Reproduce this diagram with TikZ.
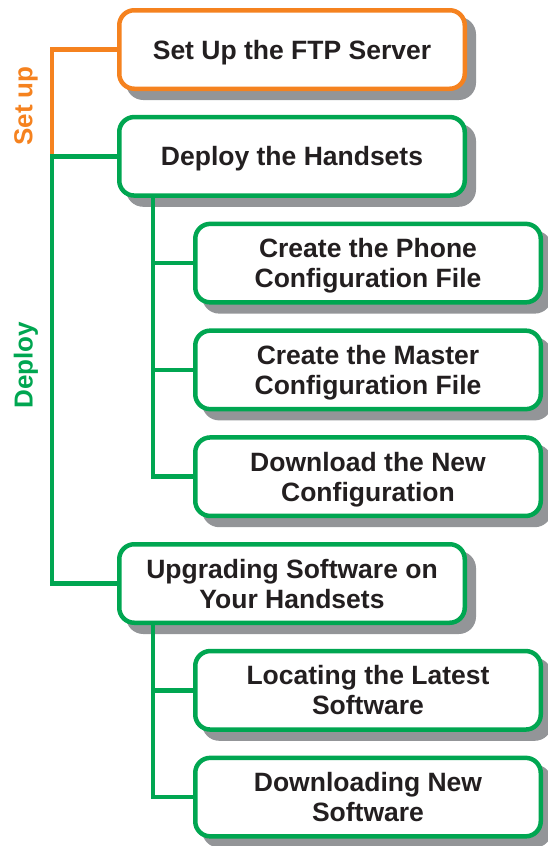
\documentclass[tikz,border=0pt]{standalone}
\usepackage{fontspec}
\setmainfont{Liberation Sans}
\usetikzlibrary{shadows}
\definecolor{orng}{HTML}{F5821F}
\definecolor{grn}{HTML}{00A651}
\definecolor{shgray}{HTML}{939598}
\definecolor{txt}{HTML}{231F20}
\begin{document}
\begin{tikzpicture}[x=1pt,y=-1pt,
  box/.style={draw=grn, line width=4.5pt, fill=white, rounded corners=15pt,
    minimum width=345.5pt, minimum height=78.5pt, inner sep=0pt, align=center,
    text=txt, font=\fontsize{26.5}{30}\selectfont\bfseries,
    text height=19pt, text depth=0pt,
    general shadow={fill=shgray, draw=shgray, line width=4.5pt,
      shadow xshift=9pt, shadow yshift=-9pt}},
  twoline/.style={text height=49pt, text depth=0pt},
  conn/.style={draw=grn, line width=4.5pt},
  phase/.style={rotate=90, inner sep=0pt, font=\fontsize{26}{30}\selectfont\bfseries}]
\useasboundingbox (0,0) rectangle (548,846);
% boxes
\node[box, draw=orng] (ftp) at (292,49.5) {Set Up the FTP Server};
\node[box] (dep) at (292,156.3) {Deploy the Handsets};
\node[box,twoline] (phone) at (368,263.1) {Create the Phone\\Configuration File};
\node[box,twoline] (master) at (368,369.9) {Create the Master\\Configuration File};
\node[box,twoline] (dl) at (368,476.7) {Download the New\\Configuration};
\node[box,twoline] (upg) at (292,583.5) {Upgrading Software on\\Your Handsets};
\node[box,twoline] (loc) at (368,690.3) {Locating the Latest\\Software};
\node[box,twoline] (dls) at (368,797.1) {Downloading New\\Software};
% trunk positions
\coordinate (trunk) at (52,0);
\coordinate (sub) at (153,0);
% connectors
\draw[conn, draw=orng] (ftp.west) -- (ftp.west -| trunk) -- (dep.west -| trunk);
\draw[conn] (dep.west) -- (dep.west -| trunk) -- (upg.west -| trunk) -- (upg.west);
\draw[conn] (dep.south -| sub) -- (dl.west -| sub) -- (dl.west);
\draw[conn] (phone.west -| sub) -- (phone.west);
\draw[conn] (master.west -| sub) -- (master.west);
\draw[conn] (upg.south -| sub) -- (dls.west -| sub) -- (dls.west);
\draw[conn] (loc.west -| sub) -- (loc.west);
% phase labels
\node[phase, text=orng] (lset) at (26,106) {Set up};
\node[phase, text=grn] (ldep) at (26,365) {Deploy};
\end{tikzpicture}
\end{document}
